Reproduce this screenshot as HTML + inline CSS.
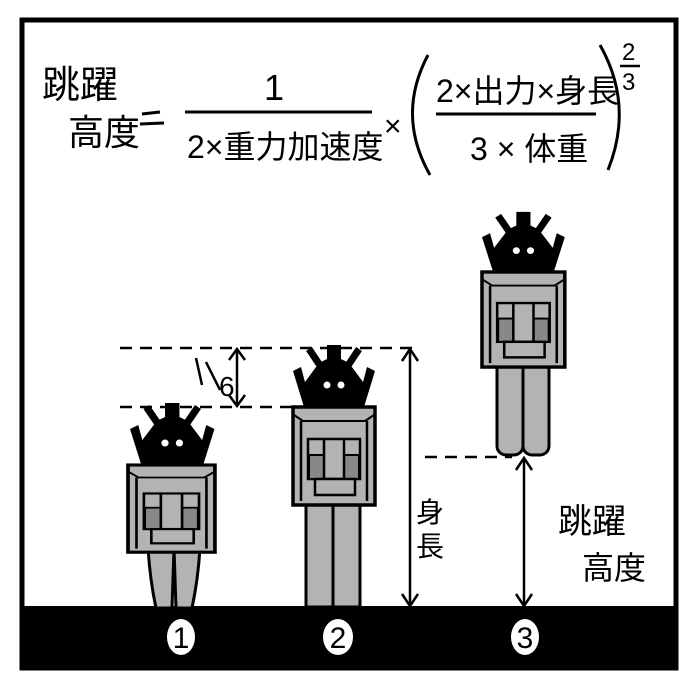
<!DOCTYPE html>
<html><head><meta charset="utf-8"><style>
html,body{margin:0;padding:0;background:#fff;}
svg{display:block;}
text{font-family:"Liberation Sans","Noto Sans CJK JP",sans-serif;fill:#000;}
</style></head><body>
<svg width="700" height="700" viewBox="0 0 700 700" xmlns="http://www.w3.org/2000/svg">
<defs>
<g id="head">
  <polygon points="12,0 12,-25 26,-44 34,-48 34,-62 48,-62 48,-48 56,-44 70,-25 70,0" fill="#000"/>
  <line x1="28" y1="-40" x2="16" y2="-58" stroke="#000" stroke-width="7"/>
  <line x1="54" y1="-40" x2="66" y2="-58" stroke="#000" stroke-width="7"/>
  <polygon points="0,-36 8,-40 18,-2 11,0" fill="#000"/>
  <polygon points="82,-36 74,-40 64,-2 71,0" fill="#000"/>
  <circle cx="34" cy="-22" r="3.5" fill="#fff"/>
  <circle cx="48" cy="-22" r="3.5" fill="#fff"/>
</g>
<g id="body">
  <rect x="0" y="0" width="82" height="98" fill="#b3b3b3" stroke="#000" stroke-width="3.5"/>
  <line x1="8" y1="14" x2="8" y2="94" stroke="#000" stroke-width="2.5"/>
  <line x1="74" y1="14" x2="74" y2="94" stroke="#000" stroke-width="2.5"/>
  <polyline points="1,8 10,14 72,14 81,8" fill="none" stroke="#000" stroke-width="2"/>
  <rect x="15" y="32" width="52" height="40" fill="#b3b3b3" stroke="#000" stroke-width="2.5"/>
  <rect x="16" y="48" width="15" height="24" fill="#888" stroke="#000" stroke-width="2"/>
  <rect x="51" y="48" width="15" height="24" fill="#888" stroke="#000" stroke-width="2"/>
  <line x1="31" y1="32" x2="31" y2="72" stroke="#000" stroke-width="2.5"/>
  <line x1="51" y1="32" x2="51" y2="72" stroke="#000" stroke-width="2.5"/>
  <rect x="22" y="72" width="40" height="16" fill="#b3b3b3" stroke="#000" stroke-width="2.5"/>
</g>
</defs>

<rect x="22" y="20" width="654" height="648" fill="#fff" stroke="#000" stroke-width="5"/>
<rect x="22" y="606" width="654" height="62" fill="#000"/>

<ellipse cx="181" cy="637" rx="14" ry="18" fill="#fff"/>
<text x="181" y="648" font-size="30" text-anchor="middle">1</text>
<ellipse cx="338" cy="637" rx="15" ry="18" fill="#fff"/>
<text x="338" y="648" font-size="30" text-anchor="middle">2</text>
<ellipse cx="525" cy="637" rx="14" ry="18" fill="#fff"/>
<text x="525" y="648" font-size="30" text-anchor="middle">3</text>

<!-- robot 1 -->
<g>
  <path d="M148,548 L174,548 L172,608 L156,608 Q150,580 148,548 Z" fill="#b3b3b3" stroke="#000" stroke-width="3"/>
  <path d="M174,548 L200,548 Q198,580 192,608 L176,608 Z" fill="#b3b3b3" stroke="#000" stroke-width="3"/>
  <g transform="translate(128,465) scale(1.06,0.89)"><use href="#body"/></g>
  <g transform="translate(130,465) scale(1.03,1)"><use href="#head"/></g>
</g>
<!-- robot 2 -->
<g>
  <rect x="306" y="503" width="27" height="104" fill="#b3b3b3" stroke="#000" stroke-width="3"/>
  <rect x="333" y="503" width="27" height="104" fill="#b3b3b3" stroke="#000" stroke-width="3"/>
  <g transform="translate(293,407)"><use href="#body"/><use href="#head"/></g>
</g>
<!-- robot 3 -->
<g>
  <rect x="497" y="360" width="26" height="95" rx="9" fill="#b3b3b3" stroke="#000" stroke-width="3"/>
  <rect x="523" y="360" width="26" height="95" rx="9" fill="#b3b3b3" stroke="#000" stroke-width="3"/>
  <g transform="translate(482,272) scale(1.01,0.97)"><use href="#body"/><use href="#head"/></g>
</g>

<g stroke="#000" stroke-width="2.5" stroke-dasharray="12,8" fill="none">
  <line x1="120" y1="348" x2="415" y2="348"/>
  <line x1="120" y1="407" x2="300" y2="407"/>
  <line x1="425" y1="457" x2="512" y2="457"/>
</g>
<g stroke="#000" stroke-width="2.5" fill="none">
  <line x1="237" y1="350" x2="237" y2="406"/>
  <polyline points="229,360 237,349 245,360"/>
  <polyline points="229,395 237,406 245,395"/>
  <line x1="410" y1="350" x2="410" y2="605"/>
  <polyline points="402,361 410,349 418,361"/>
  <polyline points="402,594 410,606 418,594"/>
  <line x1="524" y1="459" x2="524" y2="605"/>
  <polyline points="516,470 524,458 532,470"/>
  <polyline points="516,594 524,606 532,594"/>
  <line x1="196" y1="358" x2="202" y2="385"/>
  <line x1="206" y1="362" x2="220" y2="390"/>
</g>
<text x="219" y="396" font-size="28">6</text>

<text x="416" y="522" font-size="28">身</text>
<text x="416" y="556" font-size="28">長</text>
<text x="558" y="533" font-size="34">跳躍</text>
<text x="582" y="579" font-size="32">高度</text>

<text x="42" y="98" font-size="38">跳躍</text>
<text x="68" y="145" font-size="36">高度</text>
<line x1="142" y1="114" x2="160" y2="112" stroke="#000" stroke-width="3"/>
<line x1="140" y1="124" x2="164" y2="123" stroke="#000" stroke-width="3"/>
<line x1="185" y1="112" x2="372" y2="112" stroke="#000" stroke-width="3"/>
<text x="264" y="100" font-size="36">1</text>
<text x="187" y="158" font-size="32">2×重力加速度</text>
<text x="384" y="136" font-size="30">×</text>
<path d="M428,55 Q396,115 430,175" fill="none" stroke="#000" stroke-width="3"/>
<path d="M600,45 Q634,105 608,170" fill="none" stroke="#000" stroke-width="3"/>
<text x="436" y="102" font-size="32">2×出力×身長</text>
<line x1="436" y1="114" x2="596" y2="114" stroke="#000" stroke-width="3"/>
<text x="470" y="160" font-size="32">3 × 体重</text>
<text x="622" y="60" font-size="24">2</text>
<line x1="620" y1="66" x2="640" y2="66" stroke="#000" stroke-width="2.5"/>
<text x="622" y="90" font-size="24">3</text>
</svg>
</body></html>
